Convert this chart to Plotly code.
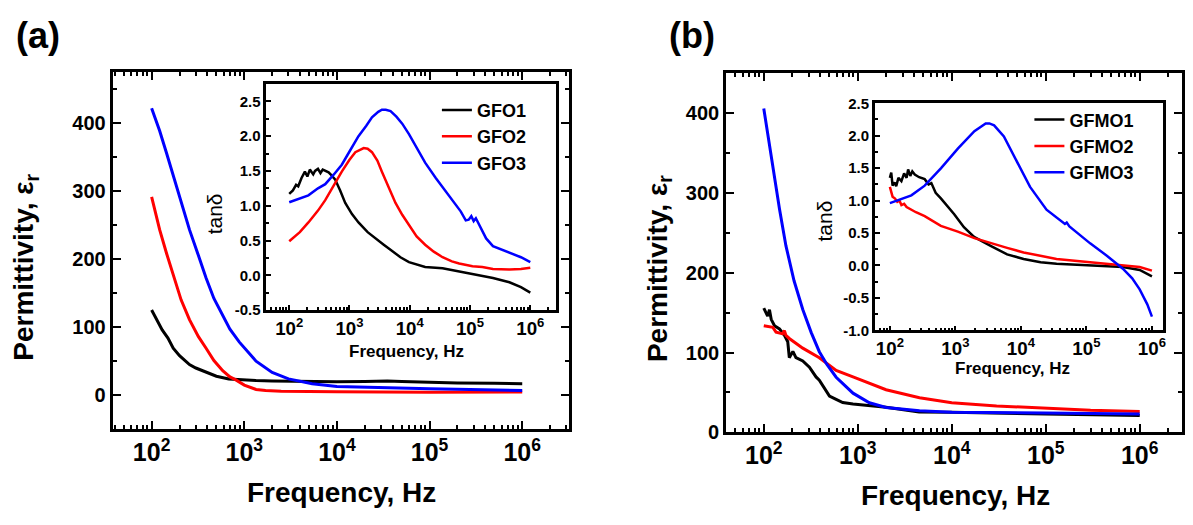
import plotly.graph_objects as go

# ---------------- data ----------------
# Panel (a) main: permittivity vs frequency
gfo1_f = [100, 115, 130, 150, 171, 200, 256, 300, 387, 500, 680, 1000, 1340, 2000, 3000, 5400, 10000, 20000, 35000, 50000, 100000, 200000, 500000, 1000000]
gfo1_e = [125, 110, 96, 84, 69, 58, 45, 40, 33.5, 28, 24, 22.5, 21.6, 21, 20.5, 20, 19.8, 20.3, 21, 20.3, 19, 18, 17.5, 17]
gfo2_f = [100, 122, 145, 171, 208, 256, 320, 387, 470, 585, 700, 810, 1000, 1340, 1700, 2500, 4000, 10000, 100000, 1000000]
gfo2_e = [291, 243, 208, 177, 140, 111, 86, 69, 51, 36, 27, 22.6, 15, 8.5, 7, 6, 5.3, 5, 4.6, 4.8]
gfo3_f = [100, 122, 145, 171, 208, 256, 320, 387, 470, 585, 700, 885, 1340, 2000, 3000, 5400, 10000, 100000, 1000000]
gfo3_e = [421, 388, 355, 323, 285, 243, 205, 172, 142, 116, 97, 78, 50, 33.5, 24, 17, 13, 9.5, 7]

# Panel (a) inset: tan(delta)
gfo1_tf = [100, 115, 130, 141, 160, 182, 200, 220, 250, 268, 300, 330, 360, 396, 450, 500, 576, 700, 850, 1100, 1410, 2000, 2690, 3700, 5100, 7000, 9700, 18000, 35000, 66000, 125000, 240000, 450000, 700000, 1000000]
gfo1_t = [1.17, 1.22, 1.30, 1.28, 1.40, 1.49, 1.42, 1.52, 1.45, 1.50, 1.53, 1.47, 1.52, 1.50, 1.48, 1.44, 1.38, 1.22, 1.04, 0.88, 0.76, 0.62, 0.53, 0.44, 0.35, 0.26, 0.19, 0.12, 0.10, 0.055, 0.01, -0.04, -0.10, -0.17, -0.25]
gfo2_tf = [100, 150, 208, 300, 396, 550, 745, 1000, 1250, 1720, 2000, 2360, 2900, 3450, 4500, 5800, 7500, 9700, 13000, 18000, 25000, 35000, 50000, 66000, 110000, 160000, 240000, 450000, 700000, 1000000]
gfo2_t = [0.49, 0.62, 0.76, 0.93, 1.08, 1.30, 1.49, 1.66, 1.77, 1.83, 1.82, 1.77, 1.65, 1.49, 1.25, 1.04, 0.87, 0.72, 0.56, 0.44, 0.34, 0.26, 0.20, 0.17, 0.13, 0.12, 0.09, 0.085, 0.09, 0.11]
gfo3_tf = [100, 150, 208, 300, 396, 550, 745, 1000, 1410, 1900, 2360, 3000, 3450, 4000, 4800, 6000, 7500, 9700, 12500, 18000, 27000, 38000, 51000, 70000, 85000, 95000, 105000, 115000, 125000, 135000, 142000, 160000, 185000, 240000, 450000, 700000, 1000000]
gfo3_t = [1.05, 1.10, 1.15, 1.25, 1.31, 1.45, 1.59, 1.78, 2.00, 2.15, 2.27, 2.35, 2.38, 2.38, 2.36, 2.28, 2.18, 2.03, 1.86, 1.62, 1.40, 1.23, 1.08, 0.92, 0.79, 0.80, 0.85, 0.78, 0.82, 0.76, 0.74, 0.65, 0.53, 0.42, 0.33, 0.26, 0.19]

# Panel (b) main: permittivity vs frequency
gfmo1_f = [100, 110, 115, 120, 130, 147, 166, 180, 187, 204, 220, 260, 306, 360, 390, 458, 500, 589, 692, 890, 2000, 4500, 10000, 100000, 1000000]
gfmo1_e = [155.6, 145.6, 153.6, 141.6, 133.6, 129.6, 121.5, 113.5, 93.5, 101.4, 93.5, 89.4, 81.5, 69.4, 65.4, 53.3, 45.4, 41.3, 37.3, 35.3, 31.3, 25.3, 25, 23, 21]
gfmo2_f = [100, 125, 135, 159, 166, 172, 187, 260, 390, 589, 890, 1330, 2000, 4540, 10000, 30000, 100000, 300000, 1000000]
gfmo2_e = [133.6, 131.5, 125.5, 123.6, 127.5, 121.5, 117.6, 105.5, 93.5, 77.4, 69.4, 61.4, 53.3, 43.3, 37, 33, 30, 27.5, 26]
gfmo3_f = [100, 125, 147, 172, 210, 260, 320, 390, 470, 589, 890, 1330, 2000, 4540, 10000, 100000, 1000000]
gfmo3_e = [406, 330, 280, 234, 190, 154, 125, 101, 85, 69, 49, 37, 31, 27, 25, 24, 23]

# Panel (b) inset: tan(delta)
gfmo1_tf = [100, 105, 110, 118, 125, 135, 150, 165, 180, 190, 205, 220, 240, 280, 340, 390, 430, 500, 605, 750, 960, 1350, 1930, 3450, 6160, 11000, 20000, 35000, 114000, 360000, 650000, 1000000]
gfmo1_t = [1.35, 1.43, 1.23, 1.28, 1.22, 1.35, 1.30, 1.42, 1.35, 1.48, 1.38, 1.45, 1.40, 1.36, 1.33, 1.25, 1.27, 1.12, 1.03, 0.92, 0.79, 0.59, 0.44, 0.30, 0.17, 0.10, 0.05, 0.025, 0.0, -0.025, -0.07, -0.17]
gfmo2_tf = [100, 105, 110, 120, 130, 140, 150, 165, 180, 250, 340, 600, 1090, 1950, 3450, 6160, 11000, 20000, 35000, 114000, 360000, 650000, 1000000]
gfmo2_t = [1.21, 1.12, 1.06, 1.03, 0.98, 1.00, 0.93, 0.95, 0.90, 0.82, 0.76, 0.61, 0.52, 0.42, 0.34, 0.27, 0.20, 0.15, 0.10, 0.05, 0.0, -0.025, -0.08]
gfmo3_tf = [100, 120, 150, 213, 340, 605, 1090, 1950, 2900, 3300, 3900, 5500, 8700, 13800, 24600, 47000, 50000, 55000, 114000, 205000, 360000, 500000, 650000, 850000, 1000000]
gfmo3_t = [0.96, 0.99, 1.03, 1.08, 1.23, 1.50, 1.80, 2.07, 2.19, 2.19, 2.16, 1.99, 1.60, 1.21, 0.86, 0.64, 0.66, 0.60, 0.34, 0.15, -0.05, -0.20, -0.37, -0.60, -0.79]

inset_a_yticks = [-0.5, 0.0, 0.5, 1.0, 1.5, 2.0, 2.5]
inset_a_ylabels = ["-0.5", "0.0", "0.5", "1.0", "1.5", "2.0", "2.5"]
inset_b_yticks = [-1.0, -0.5, 0.0, 0.5, 1.0, 1.5, 2.0, 2.5]
inset_b_ylabels = ["-1.0", "-0.5", "0.0", "0.5", "1.0", "1.5", "2.0", "2.5"]

# ---------------- figure ----------------
W, H = 1193, 525
FONT = "Liberation Sans, Arial, sans-serif"
BLACK, RED, BLUE = "#000000", "#ff0000", "#0000ff"


def px(x):
    return x / W


def py(y):
    return 1 - y / H


fig = go.Figure()

main_w = 3
ins_w = 2.5

# main a
for f, v, c in [(gfo1_f, gfo1_e, BLACK), (gfo2_f, gfo2_e, RED), (gfo3_f, gfo3_e, BLUE)]:
    fig.add_trace(go.Scatter(x=f, y=v, mode="lines", line=dict(color=c, width=main_w),
                             xaxis="x", yaxis="y", showlegend=False))
# inset a
for f, v, c, n in [(gfo1_tf, gfo1_t, BLACK, "GFO1"), (gfo2_tf, gfo2_t, RED, "GFO2"), (gfo3_tf, gfo3_t, BLUE, "GFO3")]:
    fig.add_trace(go.Scatter(x=f, y=v, mode="lines", name=n, line=dict(color=c, width=ins_w),
                             xaxis="x2", yaxis="y2", legend="legend"))
# main b
for f, v, c in [(gfmo1_f, gfmo1_e, BLACK), (gfmo2_f, gfmo2_e, RED), (gfmo3_f, gfmo3_e, BLUE)]:
    fig.add_trace(go.Scatter(x=f, y=v, mode="lines", line=dict(color=c, width=main_w),
                             xaxis="x3", yaxis="y3", showlegend=False))
# inset b
for f, v, c, n in [(gfmo1_tf, gfmo1_t, BLACK, "GFMO1"), (gfmo2_tf, gfmo2_t, RED, "GFMO2"), (gfmo3_tf, gfmo3_t, BLUE, "GFMO3")]:
    fig.add_trace(go.Scatter(x=f, y=v, mode="lines", name=n, line=dict(color=c, width=ins_w),
                             xaxis="x4", yaxis="y4", legend="legend2"))

main_tick = dict(family=FONT, size=20, color="black", weight="bold")
ins_tick = dict(family=FONT, size=15, color="black", weight="bold")


def logx(domain, rng, anchor, tickfont, lw, mirror, tlen, mlen):
    return dict(domain=domain, anchor=anchor, type="log", range=rng,
                tickmode="linear", tick0=0, dtick=1, exponentformat="power",
                ticks="inside", ticklen=tlen, tickwidth=2, tickcolor="black",
                minor=dict(ticks="inside", ticklen=mlen, tickwidth=2, tickcolor="black",
                           dtick="D1", showgrid=False),
                showline=True, linecolor="black", linewidth=lw, mirror=mirror,
                showgrid=False, zeroline=False, tickfont=tickfont)


def liny(domain, rng, anchor, tickfont, lw, mirror, tlen, mlen, dt, mdt, tv=None, tt=None):
    d = dict(domain=domain, anchor=anchor, range=rng,
             ticks="inside", ticklen=tlen, tickwidth=2, tickcolor="black",
             minor=dict(ticks="inside", ticklen=mlen, tickwidth=2, tickcolor="black", dtick=mdt, showgrid=False),
             showline=True, linecolor="black", linewidth=lw, mirror=mirror,
             showgrid=False, zeroline=False, tickfont=tickfont)
    if tv is not None:
        d.update(tickmode="array", tickvals=tv, ticktext=tt)
    else:
        d.update(tickmode="linear", tick0=0, dtick=dt)
    return d


fig.update_layout(
    width=W, height=H,
    margin=dict(l=0, r=0, t=0, b=0),
    paper_bgcolor="white", plot_bgcolor="white",
    font=dict(family=FONT, color="black"),
    xaxis=logx([px(113), px(570)], [1.58, 6.5], "y", main_tick, 3, "allticks", 8, 4),
    yaxis=liny([py(437), py(65)], [-50, 475], "x", main_tick, 3, "allticks", 8, 4, 100, 50),
    xaxis2=logx([px(267), px(557)], [1.62, 6.42], "y2", ins_tick, 2.5, True, 5, 3),
    yaxis2=liny([py(313), py(78)], [-0.5, 2.75], "x2", ins_tick, 2.5, True, 5, 3, 0.5, 0.25,
                inset_a_yticks, inset_a_ylabels),
    xaxis3=logx([px(728), px(1185)], [1.6, 6.45], "y3", main_tick, 3, "allticks", 8, 4),
    yaxis3=liny([py(440), py(67)], [0, 450], "x3", main_tick, 3, "allticks", 8, 4, 100, 50),
    xaxis4=logx([px(877), px(1166)], [1.77, 6.17], "y4", ins_tick, 2.5, True, 5, 3),
    yaxis4=liny([py(334), py(98)], [-1.0, 2.5], "x4", ins_tick, 2.5, True, 5, 3, 0.5, 0.25,
                inset_b_yticks, inset_b_ylabels),
    legend=dict(x=px(438), y=py(86), xanchor="left", yanchor="top", bgcolor="rgba(0,0,0,0)",
                font=dict(family=FONT, size=18, color="black", weight="bold"),
                tracegroupgap=0, itemwidth=30),
    legend2=dict(x=px(1032), y=py(96), xanchor="left", yanchor="top", bgcolor="rgba(0,0,0,0)",
                 font=dict(family=FONT, size=18, color="black", weight="bold"),
                 tracegroupgap=0, itemwidth=30),
)

ann = []


def text(x, y, s, size, bold=True, angle=0):
    ann.append(dict(x=px(x), y=py(y), xref="paper", yref="paper", text=s, showarrow=False,
                    xanchor="center", yanchor="middle", textangle=angle,
                    font=dict(family=FONT, size=size, color="black", weight="bold" if bold else "normal")))


text(38, 28, "(a)", 36)
text(694, 28, "(b)", 36)
text(342, 503, "Frequency, Hz", 28)
text(958, 506, "Frequency, Hz", 28)
text(26, 268, "Permittivity, ε<sub>r</sub>", 28, angle=-90)
text(661, 270, "Permittivity, ε<sub>r</sub>", 28, angle=-90)
text(215, 213, "tanδ", 21, bold=False, angle=-90)
text(827, 220, "tanδ", 21, bold=False, angle=-90)
text(408, 356, "Frequency, Hz", 17)
text(1015, 374, "Frequency, Hz", 17)
fig.update_layout(annotations=ann)

fig.write_html("out.html")
